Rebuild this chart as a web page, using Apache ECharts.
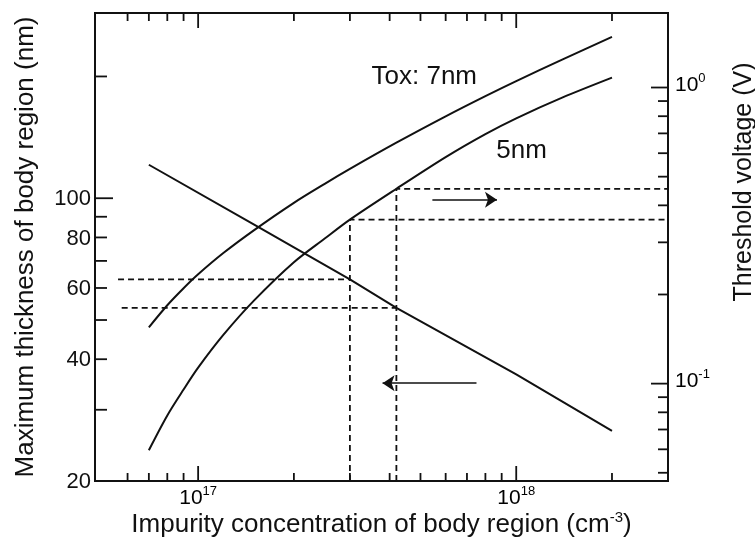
<!DOCTYPE html>
<html>
<head>
<meta charset="utf-8">
<script src="https://cdn.jsdelivr.net/npm/echarts@6/dist/echarts.min.js"></script>
<style>
html, body { margin: 0; background: #fff; }
#main { width: 755px; height: 543px; }
</style>
</head>
<body>
<div id="main"></div>
<script>
// threshold voltage (V) vs impurity concentration (cm^-3)
var vthN = [7e16, 8e16, 9e16, 1e17, 1.2e17, 1.5e17, 2e17, 2.5e17, 3e17, 4.2e17, 6e17, 8e17, 1e18, 1.4e18, 2e18];
var tox7V = [0.155, 0.184, 0.210, 0.234, 0.276, 0.330, 0.408, 0.473, 0.531, 0.651, 0.799, 0.935, 1.051, 1.244, 1.482];
var tox5V = [0.0596, 0.0781, 0.0955, 0.1132, 0.146, 0.191, 0.257, 0.309, 0.358, 0.455, 0.582, 0.696, 0.787, 0.926, 1.08];
// maximum thickness of body region (nm)
var thickN = [7e16, 1.5e17, 3e17, 4.2e17, 1e18, 2e18];
var thickNm = [121, 86, 63, 53.6, 36.7, 26.6];

// dashed guide lines
var guideN = [3e17, 4.2e17];
var guideV = [0.358, 0.455];
var guideNm = [63, 53.6];
var guideStartN = [5.6e16, 5.75e16];

// annotations
var notes = [[5.14e17, 1.089, 'Tox: 7nm'], [1.04e18, 0.61, '5nm']];

// axes
var xMin = 4.74e16, xMax = 3e18;
var leftMin = 20, leftMax = 287;
var rightMin = 0.0469, rightMax = 1.785;

var xMinorTicks = [6e16, 7e16, 8e16, 9e16, 2e17, 3e17, 4e17, 5e17, 6e17, 7e17, 8e17, 9e17, 2e18];
var xMajorTicks = [1e17, 1e18];
var leftTicks = [30, 40, 50, 60, 70, 80, 90, 200];
var leftLongTicks = [100];
var leftLabels = [20, 40, 60, 80, 100];
var rightMinorTicks = [0.05, 0.06, 0.07, 0.08, 0.09, 0.2, 0.3, 0.4, 0.5, 0.6, 0.7, 0.8, 0.9];
var rightMajorTicks = [0.1, 1];

var FONT = '"Liberation Sans", Arial, sans-serif';
var INK = '#111';

var myChart = echarts.init(document.getElementById('main'));

function pair(xs, ys) {
    return xs.map(function (x, i) { return [x, ys[i]]; });
}

function sup(v) {
    return '{b|10}{s|' + Math.round(Math.log10(v)) + '}';
}
var supRich = {
    b: { fontSize: 21, fontFamily: FONT, color: INK },
    s: { fontSize: 13, fontFamily: FONT, color: INK, padding: [0, 0, 14, 0] }
};

// ticks drawn inward, placed through the axis scales
function xTicks(vals, len) {
    return {
        type: 'custom', xAxisIndex: 0, yAxisIndex: 0, silent: true, clip: false, z: 5,
        data: vals.map(function (v) { return [v, leftMin]; }),
        renderItem: function (params, api) {
            var cs = params.coordSys;
            var px = api.coord([api.value(0), api.value(1)])[0];
            var st = { stroke: INK, lineWidth: 1.8 };
            return { type: 'group', children: [
                { type: 'line', shape: { x1: px, y1: cs.y + cs.height, x2: px, y2: cs.y + cs.height - len }, style: st },
                { type: 'line', shape: { x1: px, y1: cs.y, x2: px, y2: cs.y + len }, style: st }
            ] };
        }
    };
}
function yTicks(vals, len, idx) {
    return {
        type: 'custom', xAxisIndex: 0, yAxisIndex: idx, silent: true, clip: false, z: 5,
        data: vals.map(function (v) { return [xMin, v]; }),
        renderItem: function (params, api) {
            var cs = params.coordSys;
            var py = api.coord([api.value(0), api.value(1)])[1];
            var x0 = idx === 0 ? cs.x : cs.x + cs.width;
            var x1 = idx === 0 ? cs.x + len : cs.x + cs.width - len;
            return { type: 'line', shape: { x1: x0, y1: py, x2: x1, y2: py }, style: { stroke: INK, lineWidth: 1.8 } };
        }
    };
}
function labels(vals, kind) {
    var idx = kind === 'right' ? 1 : 0;
    return {
        type: 'custom', xAxisIndex: 0, yAxisIndex: idx, silent: true, clip: false, z: 5,
        data: vals.map(function (v) { return kind === 'x' ? [v, leftMin] : [xMin, v]; }),
        renderItem: function (params, api) {
            var cs = params.coordSys;
            var p = api.coord([api.value(0), api.value(1)]);
            if (kind === 'x') {
                return { type: 'text', x: p[0], y: cs.y + cs.height + 17,
                    style: { text: sup(api.value(0)), rich: supRich, align: 'center', verticalAlign: 'middle' } };
            }
            if (kind === 'right') {
                return { type: 'text', x: cs.x + cs.width + 7, y: p[1] - 2,
                    style: { text: sup(api.value(1)), rich: supRich, align: 'left', verticalAlign: 'middle' } };
            }
            return { type: 'text', x: cs.x - 4, y: p[1] + 1,
                style: { text: String(api.value(1)), font: '22px ' + FONT, fill: INK, align: 'right', verticalAlign: 'middle' } };
        }
    };
}

function solid(data, idx) {
    return {
        type: 'line', xAxisIndex: 0, yAxisIndex: idx, data: data,
        smooth: 0.3, showSymbol: false, silent: true, z: 3,
        lineStyle: { color: INK, width: 2 }
    };
}
function dashed(data, idx) {
    return {
        type: 'line', xAxisIndex: 0, yAxisIndex: idx, data: data,
        showSymbol: false, silent: true, z: 2,
        lineStyle: { color: INK, width: 1.8, type: [6, 4] }
    };
}
function arrow(from, to) {
    return {
        silent: true, symbol: ['none', 'arrow'], symbolSize: 12,
        label: { show: false }, emphasis: { disabled: true },
        lineStyle: { color: INK, width: 1.6, type: 'solid' },
        data: [[{ coord: from }, { coord: to }]]
    };
}

var option = {
    animation: false,
    backgroundColor: '#fff',
    textStyle: { fontFamily: FONT, color: INK },
    grid: { left: 95, right: 87, top: 13, bottom: 59, show: true, borderColor: INK, borderWidth: 2 },
    xAxis: {
        type: 'log', logBase: 10, min: xMin, max: xMax,
        axisLine: { show: false }, axisTick: { show: false }, axisLabel: { show: false }, splitLine: { show: false },
        name: 'Impurity concentration of body region (cm{s|-3})',
        nameLocation: 'middle', nameGap: 29,
        nameTextStyle: { fontSize: 26, fontFamily: FONT, color: INK,
            rich: { s: { fontSize: 15, fontFamily: FONT, color: INK, padding: [0, 0, 15, 0] } } }
    },
    yAxis: [{
        type: 'log', logBase: 10, min: leftMin, max: leftMax,
        axisLine: { show: false }, axisTick: { show: false }, axisLabel: { show: false }, splitLine: { show: false },
        name: 'Maximum thickness of body region (nm)',
        nameLocation: 'middle', nameGap: 56,
        nameTextStyle: { fontSize: 26, fontFamily: FONT, color: INK }
    }, {
        type: 'log', logBase: 10, min: rightMin, max: rightMax, position: 'right',
        axisLine: { show: false }, axisTick: { show: false }, axisLabel: { show: false }, splitLine: { show: false }
    }],
    graphic: [{
        type: 'text', x: 744, y: 182, rotation: Math.PI / 2,
        style: { text: 'Threshold voltage (V)', font: '25px ' + FONT, fill: INK, align: 'center', verticalAlign: 'middle' }
    }],
    series: [
        solid(pair(vthN, tox7V), 1),
        Object.assign(solid(pair(vthN, tox5V), 1), {
            markLine: arrow([5.45e17, 0.418], [8.7e17, 0.418])
        }),
        Object.assign(solid(pair(thickN, thickNm), 0), {
            smooth: false,
            markLine: arrow([7.5e17, 34.9], [3.8e17, 34.9])
        }),
        dashed([[guideStartN[0], guideNm[0]], [guideN[0], guideNm[0]]], 0),
        dashed([[guideStartN[1], guideNm[1]], [guideN[1], guideNm[1]]], 0),
        dashed([[guideN[0], rightMin], [guideN[0], guideV[0]], [xMax, guideV[0]]], 1),
        dashed([[guideN[1], rightMin], [guideN[1], guideV[1]], [xMax, guideV[1]]], 1),
        {
            type: 'custom', xAxisIndex: 0, yAxisIndex: 1, silent: true, clip: false, z: 6,
            data: notes,
            renderItem: function (params, api) {
                var p = api.coord([api.value(0), api.value(1)]);
                return { type: 'text', x: p[0], y: p[1],
                    style: { text: notes[params.dataIndex][2], font: '26px ' + FONT, fill: INK,
                        align: 'center', verticalAlign: 'middle' } };
            }
        },
        xTicks(xMinorTicks, 8),
        xTicks(xMajorTicks, 15),
        yTicks(leftTicks, 12, 0),
        yTicks(leftLongTicks, 18, 0),
        yTicks(rightMinorTicks, 10, 1),
        yTicks(rightMajorTicks, 17, 1),
        labels(xMajorTicks, 'x'),
        labels(leftLabels, 'left'),
        labels(rightMajorTicks, 'right')
    ]
};

myChart.setOption(option);
</script>
</body>
</html>
